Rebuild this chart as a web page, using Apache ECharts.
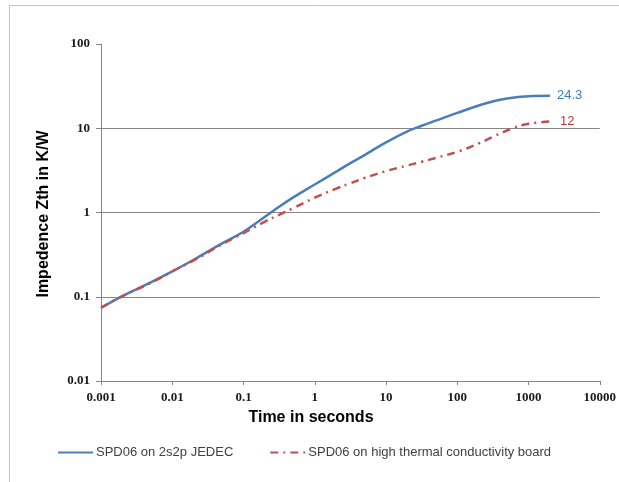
<!DOCTYPE html>
<html>
<head>
<meta charset="utf-8">
<script src="https://cdn.jsdelivr.net/npm/echarts@6/dist/echarts.min.js"></script>
<style>
html,body{margin:0;padding:0;background:#fff;}
#chart{width:619px;height:482px;}
</style>
</head>
<body>
<div id="chart"></div>
<script>
// ---- data ----
const seriesNames = ['SPD06 on 2s2p JEDEC', 'SPD06 on high thermal conductivity board'];
const jedecTime = [0.001, 0.002, 0.005, 0.01, 0.02, 0.05, 0.1, 0.2, 0.316, 0.5, 1, 2, 3.16, 5, 10, 20, 31.6, 50, 100, 200, 316, 500, 1000, 2000];
const jedecZth  = [0.074, 0.102, 0.148, 0.2, 0.275, 0.43, 0.59, 0.89, 1.17, 1.51, 2.15, 3.05, 3.85, 4.8, 6.8, 9.2, 10.7, 12.3, 15.2, 18.6, 20.8, 22.6, 24.0, 24.3];
const highTime  = [0.001, 0.002, 0.005, 0.01, 0.02, 0.05, 0.1, 0.2, 0.316, 0.5, 1, 2, 3.16, 5, 10, 20, 31.6, 50, 100, 200, 316, 600, 1000, 2000];
const highZth   = [0.074, 0.102, 0.146, 0.2, 0.27, 0.42, 0.57, 0.78, 0.94, 1.13, 1.5, 1.92, 2.22, 2.57, 3.1, 3.62, 4.0, 4.45, 5.25, 6.6, 7.9, 10.0, 11.3, 12.0];
const endLabels = ['24.3', '12'];
const xTickLabels = ['0.001', '0.01', '0.1', '1', '10', '100', '1000', '10000'];
const yTickLabels = ['0.01', '0.1', '1', '10', '100'];
const xTitle = 'Time in seconds';
const yTitle = 'Impedence Zth in K/W';

const pairs = (xs, ys) => xs.map((x, i) => [x, ys[i]]);

const chart = echarts.init(document.getElementById('chart'), null, {renderer: 'canvas'});
const gridCol = '#868686';
const labelFont = {fontFamily: 'Liberation Serif', fontSize: 13, fontWeight: 'bold', color: '#1a1a1a'};

chart.setOption({
  animation: false,
  backgroundColor: '#fff',
  grid: {left: 101, right: 19, top: 44, bottom: 101, containLabel: false},
  xAxis: {
    type: 'log', logBase: 10, min: 0.001, max: 10000,
    axisLine: {show: true, lineStyle: {color: gridCol, width: 1}},
    axisTick: {show: true, length: 4, lineStyle: {color: gridCol}},
    minorTick: {show: false},
    splitLine: {show: false},
    axisLabel: Object.assign({margin: 10, formatter: (v, i) => xTickLabels[i]}, labelFont)
  },
  yAxis: {
    type: 'log', logBase: 10, min: 0.01, max: 100,
    axisLine: {show: true, lineStyle: {color: gridCol, width: 1}},
    axisTick: {show: true, length: 5, lineStyle: {color: gridCol}},
    minorTick: {show: false},
    splitLine: {show: true, lineStyle: {color: [gridCol, gridCol, gridCol, gridCol, 'rgba(0,0,0,0)'], width: 1}},
    axisLabel: Object.assign({margin: 11, formatter: (v, i) => yTickLabels[i]}, labelFont)
  },
  legend: {
    left: 57, top: 446, padding: 0, itemWidth: 35, itemHeight: 14, itemGap: 36,
    itemStyle: {opacity: 0},
    textStyle: {fontFamily: 'Liberation Sans', fontSize: 13, color: '#404040', padding: [0, 0, 0, -2]},
    data: seriesNames
  },
  graphic: [
    {type: 'rect', shape: {x: 9.5, y: 5.5, width: 700, height: 700}, style: {fill: 'none', stroke: '#c4c4c4', lineWidth: 1}, silent: true, z: -1},
    {type: 'text', x: 311, y: 418, style: {text: xTitle, font: 'bold 16px "Liberation Sans"', fill: '#000', textAlign: 'center', textVerticalAlign: 'middle'}},
    {type: 'text', x: 44, y: 214, rotation: Math.PI / 2, style: {text: yTitle, font: 'bold 16px "Liberation Sans"', fill: '#000', textAlign: 'center', textVerticalAlign: 'middle'}}
  ],
  series: [
    {
      name: seriesNames[0], type: 'line', data: pairs(jedecTime, jedecZth),
      smooth: 0.4, symbol: 'none', showSymbol: false,
      lineStyle: {color: '#4A7EBB', width: 2.5},
      itemStyle: {color: '#4A7EBB'},
      endLabel: {show: true, formatter: endLabels[0], distance: 7, color: '#3a7dbf', fontFamily: 'Liberation Sans', fontSize: 13}
    },
    {
      name: seriesNames[1], type: 'line', data: pairs(highTime, highZth),
      smooth: 0.4, symbol: 'none', showSymbol: false,
      lineStyle: {color: '#C0504D', width: 2.5, type: [8, 5, 2, 5]},
      itemStyle: {color: '#C0504D'},
      endLabel: {show: true, formatter: endLabels[1], distance: 10, color: '#b03a3a', fontFamily: 'Liberation Sans', fontSize: 13}
    }
  ]
});
</script>
</body>
</html>
